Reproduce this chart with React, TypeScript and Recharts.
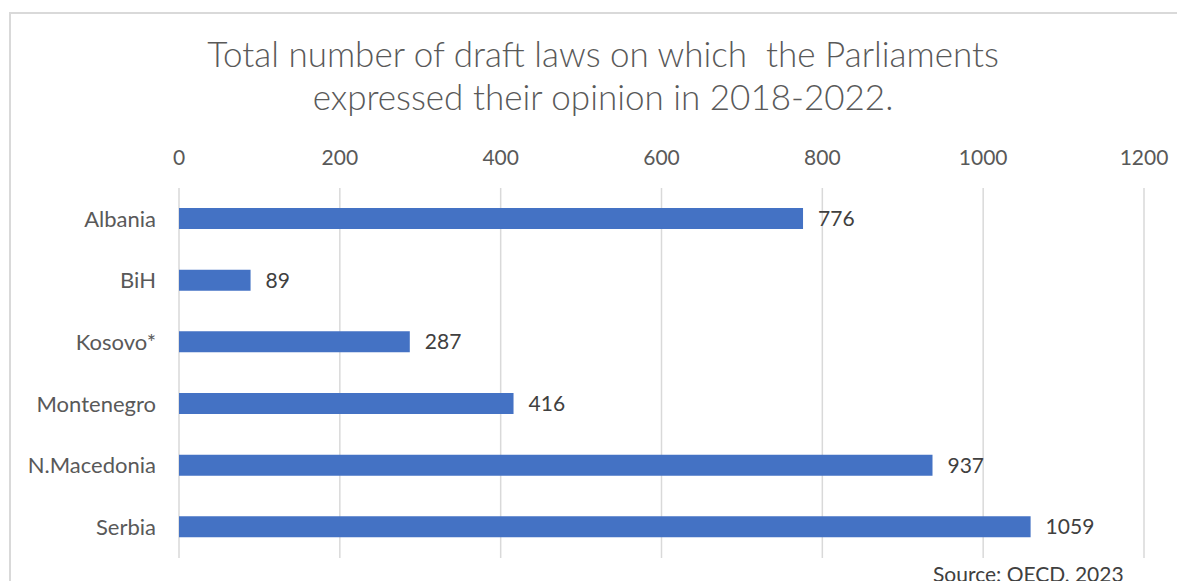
import React from 'react';
import { BarChart, Bar, XAxis, YAxis, CartesianGrid, LabelList } from 'recharts';

const countries = ['Albania', 'BiH', 'Kosovo*', 'Montenegro', 'N.Macedonia', 'Serbia'];
const draftLaws = [776, 89, 287, 416, 937, 1059];
const xTicks = [0, 200, 400, 600, 800, 1000, 1200];

const data = countries.map((name, i) => ({ name, value: draftLaws[i] }));

const FONT = 'Lato, "Open Sans", sans-serif';
const GREY = '#595959';

const App: React.FC = () => {
  return (
    <div style={{ position: 'relative', width: 1177, height: 573, overflow: 'hidden', fontFamily: FONT }}>
      <div
        style={{
          position: 'absolute',
          left: 1,
          top: 4,
          width: 1300,
          height: 700,
          border: '2px solid #d9d9d9',
          boxSizing: 'border-box',
        }}
      />
      <div
        style={{
          position: 'absolute',
          left: 0,
          top: 24,
          width: 1190,
          textAlign: 'center',
          fontSize: 35,
          fontWeight: 300,
          lineHeight: '43px',
          color: GREY,
        }}
      >
        Total number of draft laws on which&nbsp; the Parliaments
        <br />
        expressed their opinion in 2018-2022.
      </div>
      <div style={{ position: 'absolute', left: 0, top: 0 }}>
        <BarChart
          width={1177}
          height={573}
          data={data}
          layout="vertical"
          margin={{ top: 150, right: 41, bottom: 23, left: 0 }}
        >
          <CartesianGrid horizontal={false} stroke="#d9d9d9" strokeWidth={1.5} />
          <XAxis
            type="number"
            orientation="top"
            domain={[0, 1200]}
            ticks={xTicks}
            height={30}
            axisLine={false}
            tickLine={false}
            tickMargin={17}
            tick={{ fill: GREY, fontSize: 21, fontFamily: FONT }}
          />
          <YAxis
            type="category"
            dataKey="name"
            width={171}
            axisLine={false}
            tickLine={false}
            tickMargin={17}
            tick={{ fill: GREY, fontSize: 22, fontFamily: FONT }}
          />
          <Bar dataKey="value" fill="#4472C4" barSize={21} isAnimationActive={false}>
            <LabelList dataKey="value" position="right" offset={15} fill="#404040" fontSize={21} fontFamily={FONT} />
          </Bar>
        </BarChart>
      </div>
      <div style={{ position: 'absolute', left: 925, top: 553, fontSize: 21, color: '#404040' }}>
        Source: OECD, 2023
      </div>
    </div>
  );
};

export default App;
